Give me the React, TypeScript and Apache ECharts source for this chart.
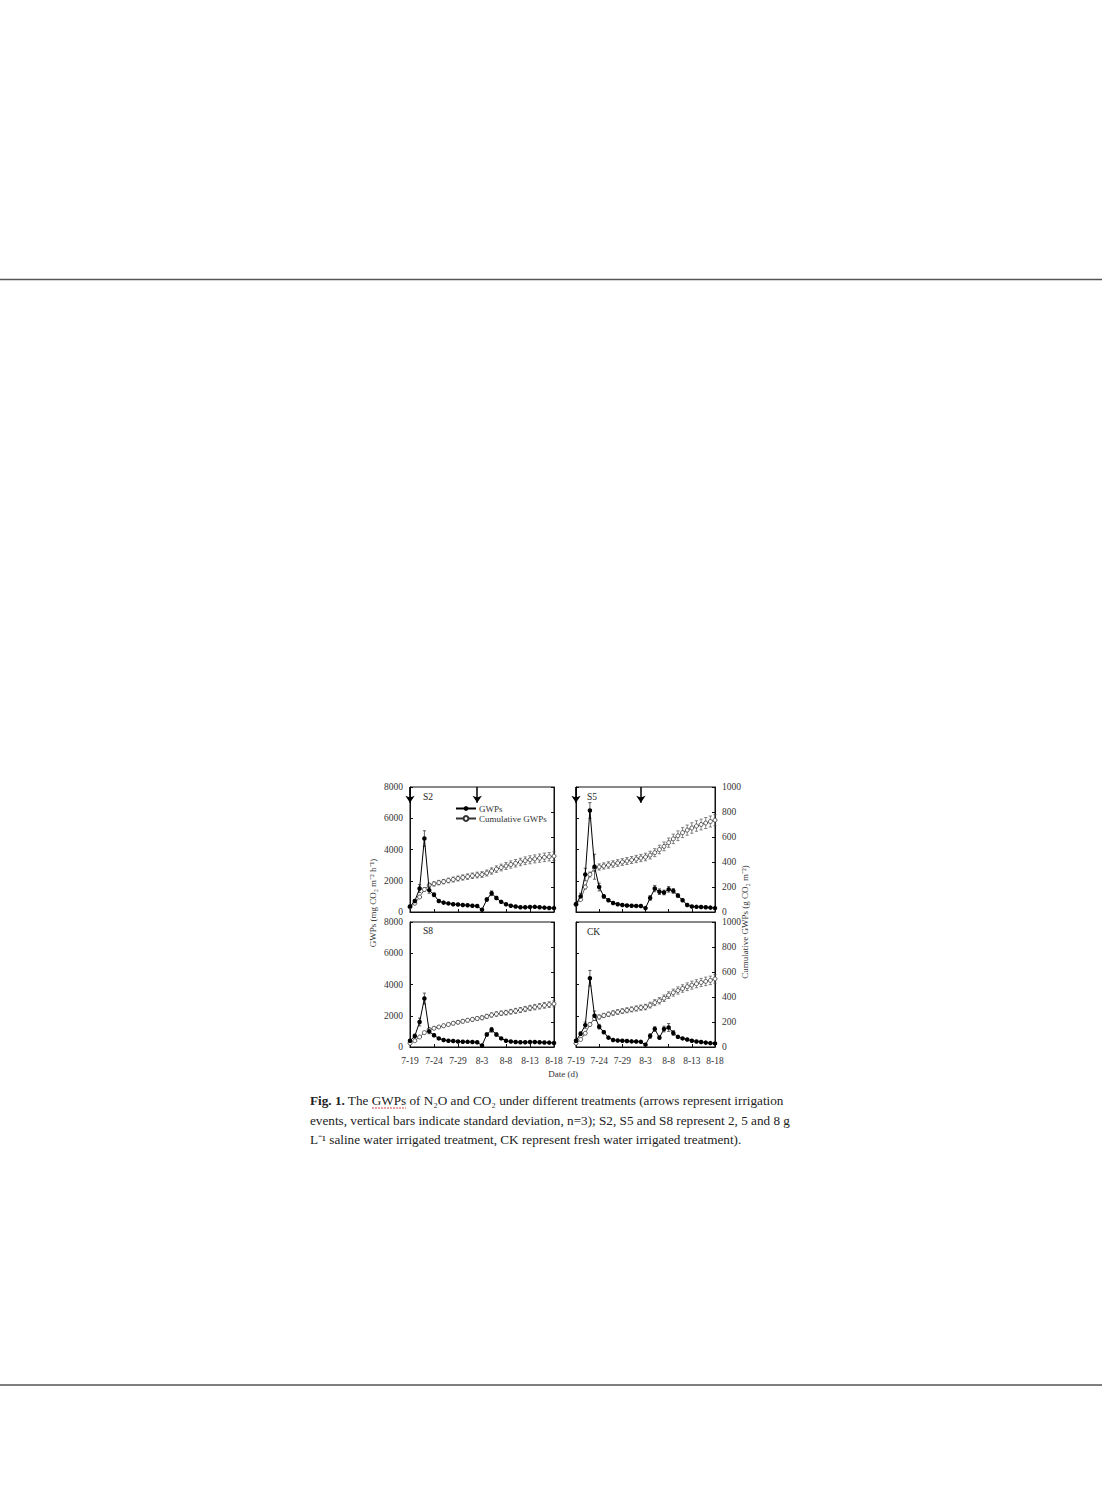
import { useEffect, useRef } from "react";
import * as echarts from "echarts";

const FONT = '"Liberation Serif", "Times New Roman", serif';

// sampling days, 7-19 .. 8-18
const dates = [
  "7-19", "7-20", "7-21", "7-22", "7-23", "7-24", "7-25", "7-26", "7-27", "7-28",
  "7-29", "7-30", "7-31", "8-1", "8-2", "8-3", "8-4", "8-5", "8-6", "8-7",
  "8-8", "8-9", "8-10", "8-11", "8-12", "8-13", "8-14", "8-15", "8-16", "8-17", "8-18",
];
const irrigationDates = ["7-19", "8-2"];

const gwpTicks = [0, 2000, 4000, 6000, 8000];
const cumTicks = [0, 200, 400, 600, 800, 1000];

// S2
const s2Gwp = [350, 700, 1500, 4700, 1400, 1100, 700, 600, 550, 500, 480, 450, 430, 400, 380, 150, 800, 1200, 900, 650, 500, 400, 350, 300, 300, 320, 330, 300, 280, 260, 250];
const s2GwpSd = [60, 100, 250, 500, 200, 120, 80, 60, 50, 50, 40, 40, 40, 40, 40, 30, 100, 150, 100, 70, 50, 40, 40, 30, 30, 30, 30, 30, 30, 30, 30];
const s2Cum = [40, 70, 120, 180, 215, 225, 235, 243, 252, 260, 268, 276, 283, 290, 296, 300, 312, 328, 343, 356, 368, 380, 390, 400, 410, 418, 425, 431, 437, 442, 447];
const s2CumSd = [5, 8, 10, 14, 16, 17, 18, 18, 19, 20, 20, 21, 22, 22, 23, 23, 24, 25, 26, 27, 28, 29, 30, 30, 31, 32, 32, 33, 34, 34, 35];

// S5
const s5Gwp = [500, 1000, 2400, 6500, 2900, 1600, 1000, 750, 580, 500, 450, 420, 400, 390, 380, 250, 900, 1500, 1300, 1250, 1450, 1350, 1050, 750, 450, 350, 330, 320, 300, 280, 250];
const s5GwpSd = [80, 200, 400, 500, 800, 250, 120, 80, 60, 50, 50, 40, 40, 40, 40, 40, 150, 200, 180, 150, 180, 150, 120, 80, 50, 40, 40, 40, 40, 30, 30];
const s5Cum = [60, 100, 200, 300, 350, 360, 368, 376, 384, 392, 400, 408, 416, 424, 432, 440, 455, 475, 500, 525, 555, 585, 610, 635, 655, 672, 688, 700, 712, 724, 735];
const s5CumSd = [6, 10, 15, 20, 24, 25, 25, 26, 26, 27, 27, 28, 28, 29, 29, 30, 31, 32, 34, 35, 37, 38, 39, 40, 41, 42, 42, 43, 44, 44, 45];

// S8
const s8Gwp = [400, 700, 1600, 3100, 1000, 750, 550, 450, 400, 380, 350, 340, 330, 320, 300, 100, 800, 1100, 800, 550, 400, 350, 320, 300, 300, 320, 320, 300, 290, 280, 260];
const s8GwpSd = [60, 120, 250, 350, 150, 80, 60, 50, 40, 40, 40, 40, 40, 40, 40, 20, 100, 150, 100, 60, 40, 40, 40, 30, 30, 30, 30, 30, 30, 30, 30];
const s8Cum = [30, 50, 80, 115, 140, 150, 160, 170, 180, 190, 198, 206, 214, 221, 228, 234, 245, 256, 264, 270, 275, 282, 289, 296, 304, 312, 319, 326, 333, 339, 345];
const s8CumSd = [4, 5, 7, 9, 10, 11, 11, 12, 12, 13, 13, 14, 14, 15, 15, 16, 16, 17, 18, 18, 19, 19, 20, 20, 21, 21, 22, 22, 23, 23, 24];

// CK
const ckGwp = [400, 850, 1400, 4400, 2000, 1300, 950, 600, 450, 420, 400, 380, 360, 350, 330, 150, 700, 1150, 600, 1150, 1250, 900, 650, 550, 480, 400, 350, 320, 280, 250, 230];
const ckGwpSd = [60, 120, 200, 500, 300, 150, 100, 70, 50, 50, 40, 40, 40, 40, 40, 30, 150, 150, 100, 180, 250, 150, 80, 60, 50, 40, 40, 40, 30, 30, 30];
const ckCum = [30, 60, 110, 180, 228, 240, 252, 262, 272, 280, 287, 294, 301, 308, 315, 320, 335, 355, 370, 390, 415, 435, 452, 468, 482, 495, 506, 516, 525, 533, 545];
const ckCumSd = [4, 6, 9, 13, 16, 17, 17, 18, 18, 19, 19, 20, 20, 21, 21, 22, 23, 24, 25, 26, 27, 28, 29, 30, 31, 32, 32, 33, 34, 34, 35];

const panelNames = ["S2", "S5", "S8", "CK"];
const panelGwp = [s2Gwp, s5Gwp, s8Gwp, ckGwp];
const panelGwpSd = [s2GwpSd, s5GwpSd, s8GwpSd, ckGwpSd];
const panelCum = [s2Cum, s5Cum, s8Cum, ckCum];
const panelCumSd = [s2CumSd, s5CumSd, s8CumSd, ckCumSd];

// page layout (px)
const layout = [
  { left: 410, top: 787, width: 144 },
  { left: 576, top: 787, width: 139 },
  { left: 410, top: 922, width: 144 },
  { left: 576, top: 922, width: 139 },
];
const PANEL_H = 125;

const errorBars = (axisIdx: number, yIdx: number, values: number[], sds: number[], color: string) => ({
  type: "custom",
  xAxisIndex: axisIdx,
  yAxisIndex: yIdx,
  silent: true,
  z: 2,
  data: values.map((v, i) => [i, v - sds[i], v + sds[i]]),
  encode: { x: 0, y: [1, 2] },
  renderItem: (_params: any, api: any) => {
    const x = api.value(0);
    const lo = api.coord([x, api.value(1)]);
    const hi = api.coord([x, api.value(2)]);
    const st = { stroke: color, lineWidth: 0.7 };
    return {
      type: "group",
      children: [
        { type: "line", shape: { x1: lo[0], y1: lo[1], x2: hi[0], y2: hi[1] }, style: st },
        { type: "line", shape: { x1: lo[0] - 1.6, y1: lo[1], x2: lo[0] + 1.6, y2: lo[1] }, style: st },
        { type: "line", shape: { x1: hi[0] - 1.6, y1: hi[1], x2: hi[0] + 1.6, y2: hi[1] }, style: st },
      ],
    };
  },
});

function buildOption(): any {
  const grid: any[] = [];
  const xAxis: any[] = [];
  const yAxis: any[] = [];
  const series: any[] = [];

  const axisLine = { show: true, lineStyle: { color: "#111", width: 1 } };
  const label = { fontFamily: FONT, fontSize: 9.5, color: "#333" };
  const plain = (v: number) => String(v);

  panelNames.forEach((_, i) => {
    const col = i % 2;
    const row = Math.floor(i / 2);
    const pos = layout[i];
    grid.push({
      left: pos.left,
      top: pos.top,
      width: pos.width,
      height: PANEL_H,
      show: true,
      borderColor: "#111",
      borderWidth: 1,
      backgroundColor: "transparent",
    });
    xAxis.push({
      type: "category",
      gridIndex: i,
      data: dates,
      boundaryGap: false,
      axisLine,
      axisTick: { show: true, inside: true, length: 3, interval: 4, lineStyle: { color: "#111" } },
      axisLabel: { show: row === 1, interval: 4, margin: 9, ...label },
      splitLine: { show: false },
    });
    yAxis.push({
      type: "value",
      gridIndex: i,
      position: "left",
      min: gwpTicks[0],
      max: gwpTicks[gwpTicks.length - 1],
      interval: gwpTicks[1] - gwpTicks[0],
      axisLine,
      axisTick: { show: true, inside: true, length: 3, lineStyle: { color: "#111" } },
      axisLabel: { show: col === 0, margin: 7, formatter: plain, ...label },
      splitLine: { show: false },
    });
    yAxis.push({
      type: "value",
      gridIndex: i,
      position: "right",
      min: cumTicks[0],
      max: cumTicks[cumTicks.length - 1],
      interval: cumTicks[1] - cumTicks[0],
      axisLine,
      axisTick: { show: true, inside: true, length: 3, lineStyle: { color: "#111" } },
      axisLabel: { show: col === 1, margin: 7, formatter: plain, ...label },
      splitLine: { show: false },
    });

    series.push(errorBars(i, 2 * i + 1, panelCum[i], panelCumSd[i], "#555"));
    series.push({
      name: "Cumulative GWPs",
      type: "line",
      xAxisIndex: i,
      yAxisIndex: 2 * i + 1,
      data: panelCum[i],
      symbol: "circle",
      symbolSize: 4,
      showAllSymbol: true,
      z: 3,
      lineStyle: { color: "#333", width: 0.8 },
      itemStyle: { color: "#fff", borderColor: "#333", borderWidth: 0.8 },
    });
    series.push(errorBars(i, 2 * i, panelGwp[i], panelGwpSd[i], "#222"));
    const gwpSeries: any = {
      name: "GWPs",
      type: "line",
      xAxisIndex: i,
      yAxisIndex: 2 * i,
      data: panelGwp[i],
      symbol: "circle",
      symbolSize: 4.5,
      showAllSymbol: true,
      z: 4,
      lineStyle: { color: "#000", width: 1 },
      itemStyle: { color: "#000" },
    };
    if (row === 0) {
      gwpSeries.markLine = {
        silent: true,
        animation: false,
        symbol: ["none", "arrow"],
        symbolSize: 7,
        label: { show: false },
        lineStyle: { color: "#000", width: 1.5, type: "solid" },
        data: irrigationDates.map((d) => [
          { coord: [d, gwpTicks[gwpTicks.length - 1]] },
          { coord: [d, 7000] },
        ]),
      };
    }
    series.push(gwpSeries);
  });

  const panelLabelPos = [
    [423, 797],
    [587, 797],
    [423, 931],
    [587, 932],
  ];

  const captionFont = `13.2px ${FONT}`;

  const graphic: any[] = [
    { type: "line", shape: { x1: 0, y1: 279.5, x2: 1102, y2: 279.5 }, style: { stroke: "#555", lineWidth: 1.5 } },
    { type: "line", shape: { x1: 0, y1: 1385, x2: 1102, y2: 1385 }, style: { stroke: "#555", lineWidth: 1.5 } },
    ...panelNames.map((n, i) => ({
      type: "text",
      x: panelLabelPos[i][0],
      y: panelLabelPos[i][1],
      style: { text: n, font: `9.5px ${FONT}`, fill: "#222", textVerticalAlign: "middle" },
    })),
    {
      type: "text",
      x: 373,
      y: 903,
      rotation: Math.PI / 2,
      style: {
        text: "GWPs (mg CO₂ m⁻² h⁻¹)",
        font: `9px ${FONT}`,
        fill: "#333",
        textAlign: "center",
        textVerticalAlign: "middle",
      },
    },
    {
      type: "text",
      x: 745,
      y: 922,
      rotation: Math.PI / 2,
      style: {
        text: "Cumulative GWPs (g CO₂ m⁻²)",
        font: `9px ${FONT}`,
        fill: "#333",
        textAlign: "center",
        textVerticalAlign: "middle",
      },
    },
    {
      type: "text",
      x: 563,
      y: 1074,
      style: { text: "Date (d)", font: `9px ${FONT}`, fill: "#333", textAlign: "center", textVerticalAlign: "middle" },
    },
    {
      type: "text",
      x: 310,
      y: 1100,
      style: {
        text: "{b|Fig. 1.} The GWPs of N₂O and CO₂ under different treatments (arrows represent irrigation",
        font: captionFont,
        fill: "#222",
        textVerticalAlign: "middle",
        rich: { b: { fontWeight: "bold", fontSize: 13.2, fontFamily: FONT, fill: "#222" } },
      },
    },
    {
      type: "text",
      x: 310,
      y: 1120,
      style: {
        text: "events, vertical bars indicate standard deviation, n=3); S2, S5 and S8 represent 2, 5 and 8 g",
        font: captionFont,
        fill: "#222",
        textVerticalAlign: "middle",
      },
    },
    {
      type: "text",
      x: 310,
      y: 1139,
      style: {
        text: "L⁻¹ saline water irrigated treatment, CK represent fresh water irrigated treatment).",
        font: captionFont,
        fill: "#222",
        textVerticalAlign: "middle",
      },
    },
    {
      type: "line",
      shape: { x1: 372, y1: 1108, x2: 406, y2: 1108 },
      style: { stroke: "#d04848", lineWidth: 1, lineDash: [2, 1] },
    },
  ];

  return {
    animation: false,
    backgroundColor: "#fff",
    textStyle: { fontFamily: FONT },
    grid,
    xAxis,
    yAxis,
    series,
    legend: {
      data: ["GWPs", "Cumulative GWPs"],
      left: 455,
      top: 804,
      orient: "vertical",
      itemGap: 1,
      itemWidth: 20,
      itemHeight: 6,
      padding: 0,
      selectedMode: false,
      textStyle: { fontFamily: FONT, fontSize: 9, color: "#333", padding: [0, 0, 0, -2] },
    },
    graphic,
  };
}

export default function App() {
  const chartRef = useRef<HTMLDivElement>(null);

  useEffect(() => {
    if (!chartRef.current) return;
    const chart = echarts.init(chartRef.current, null, { renderer: "svg" });
    chart.setOption(buildOption());
    return () => {
      chart.dispose();
    };
  }, []);

  return (
    <div
      ref={chartRef}
      style={{ position: "absolute", left: 0, top: 0, width: 1102, height: 1495, background: "#fff" }}
    />
  );
}
